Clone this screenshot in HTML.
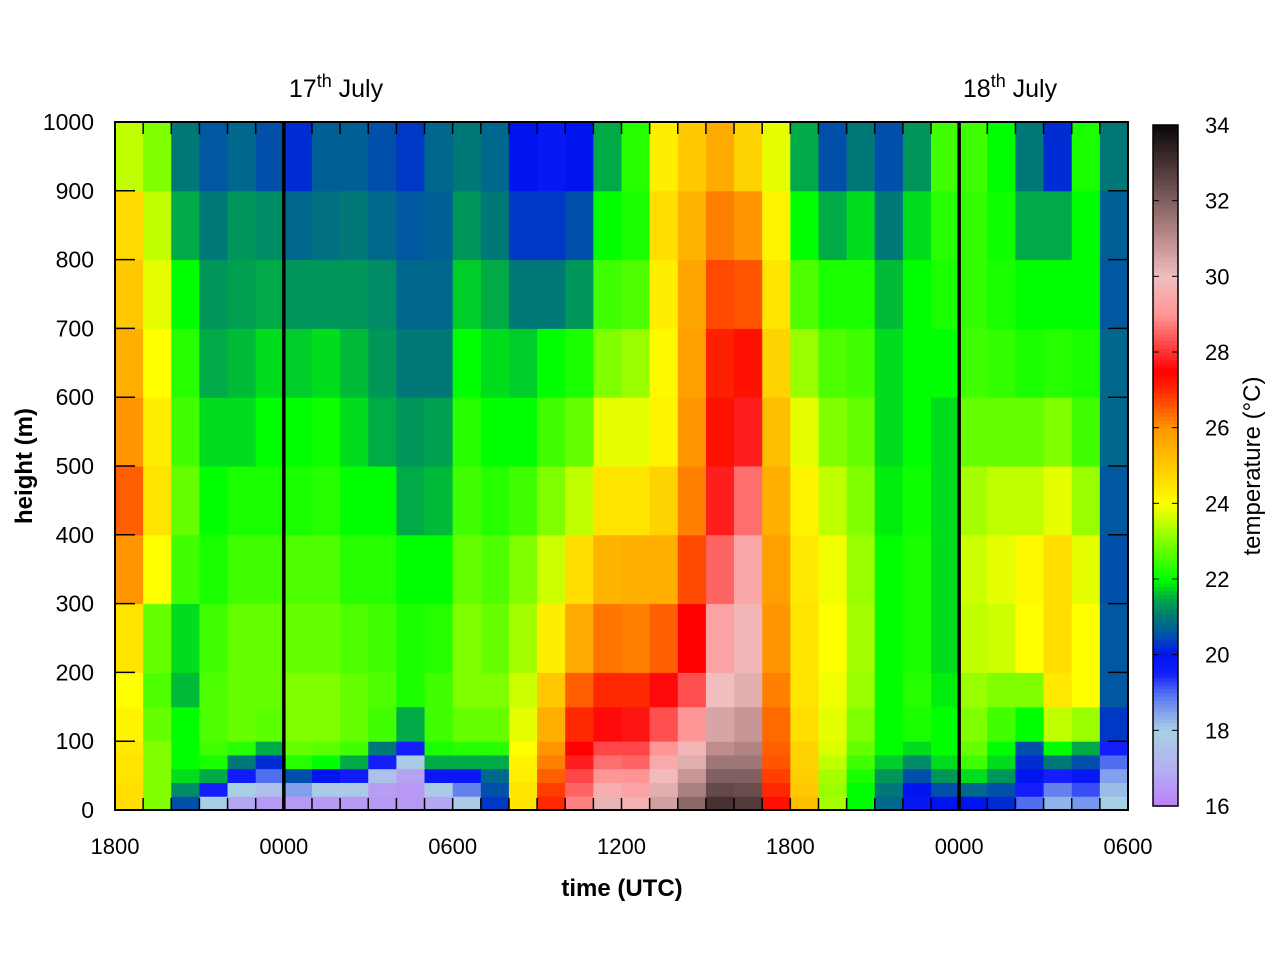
<!DOCTYPE html>
<html><head><meta charset="utf-8">
<style>
html,body{margin:0;padding:0;background:#fff;}
svg{display:block;font-family:"Liberation Sans",sans-serif;}
</style></head>
<body>
<svg id="chart" width="1280" height="960" viewBox="0 0 1280 960" xmlns="http://www.w3.org/2000/svg">
<g id="cells"></g>
<g id="axes"></g>
<g id="cbar"></g>
<text x="622" y="896" font-size="24" font-weight="bold" text-anchor="middle">time (UTC)</text>
<text transform="translate(32,466) rotate(-90)" font-size="24" font-weight="bold" text-anchor="middle">height (m)</text>
<text transform="translate(1260,466) rotate(-90)" font-size="24" text-anchor="middle">temperature (°C)</text>
<text x="336" y="97" font-size="25" text-anchor="middle">17<tspan font-size="18" dy="-10">th</tspan><tspan dy="10"> July</tspan></text>
<text x="1010" y="97" font-size="25" text-anchor="middle">18<tspan font-size="18" dy="-10">th</tspan><tspan dy="10"> July</tspan></text>
</svg>
<script>
// Data: hourly columns starting 1800 16 July; heights are layer boundaries (m)
const heightEdges = [0,20,40,60,80,100,150,200,300,400,500,600,700,800,900,1000];
const timeHours = Array.from({length:36},(_,i)=>i); // hours after 1800
const temps = [
[24.6,24.6,24.5,24.5,24.4,24.2,24,24.5,26,26.5,26,25.5,25,24.7,23.5],
[23,23,23,23,23,22.8,22.6,22.8,24,24.5,24.3,24,23.8,23.5,23],
[20.5,21.2,21.8,22,22,22,21.6,21.8,22.5,22.8,22.5,22.3,22,21.5,21],
[18,19.5,21.5,22.2,22.5,22.6,22.6,22.5,22.2,22,21.8,21.5,21.3,21,20.6],
[16.8,18,19.6,21,22.3,22.8,22.8,22.8,22.5,22.2,21.8,21.6,21.4,21.3,20.8],
[16.5,17.5,19,20.2,21.5,22.7,22.8,22.8,22.5,22.2,22,21.8,21.5,21.2,20.5],
[16.5,18.5,20.5,22.3,22.8,23,23,22.8,22.6,22.2,22,21.7,21.3,20.8,20.2],
[16.5,17.8,20,22,22.7,23,23,22.8,22.6,22.3,22.1,21.8,21.3,20.9,20.7],
[16.5,17.8,19.6,21.5,22.5,22.8,22.8,22.6,22.3,22,21.8,21.6,21.3,21,20.7],
[16.5,16.6,17.5,19.5,21,22.5,22.6,22.5,22.3,22,21.5,21.3,21.2,20.8,20.5],
[16.5,16.5,16.7,17.8,19.5,21.5,22.2,22.2,22,21.5,21.3,21,20.8,20.6,20.3],
[16.8,17.8,19.8,21.5,22.2,22.5,22.5,22.3,22,21.6,21.4,21,20.8,20.7,20.8],
[17.8,18.8,19.8,21.5,22.3,22.8,23,23,22.8,22.5,22.3,22,21.7,21.3,21],
[20.3,20.5,20.8,21.5,22.3,22.8,23,22.8,22.6,22.3,22,21.8,21.5,21,20.8],
[24.5,24.5,24.3,24.2,24,23.8,23.6,23.3,23,22.5,22,21.7,21,20.3,20],
[27,26.8,26.5,26.2,26,25.5,25,24.3,23.6,23,22.5,22,21,20.3,19.8],
[28.8,28.5,28.2,27.8,27.5,27,26.5,25.6,24.6,23.5,22.8,22.2,21.3,20.5,20],
[30.2,29.6,29,28.6,28.2,27.6,27,26.3,25.4,24.5,23.8,23,22.5,22,21.5],
[29.7,29.3,29,28.5,28.2,27.7,27,26.2,25.5,24.5,23.8,23.2,22.6,22.2,22.3],
[30.6,30.3,29.9,29.5,29,28.3,27.6,26.5,25.5,24.8,24.2,24.1,24.3,24.6,24.3],
[31.8,31.3,30.8,30.3,29.8,29,28.3,27.5,26.7,26.2,26,25.8,25.7,25.4,25],
[33,32.5,32,31.5,31,30.5,30,29.3,28.5,27.8,27.3,27.1,26.7,26.2,25.6],
[32.8,32.4,32,31.5,31.2,30.8,30.3,29.8,29.4,28.6,27.8,27.3,26.6,26,24.8],
[27.3,27,26.8,26.6,26.5,26.4,26.2,26,25.8,25.5,25.2,24.8,24.5,24.2,23.8],
[25.2,25,24.9,24.8,24.8,24.6,24.5,24.5,24.4,24.2,23.8,23.2,22.6,22,21.5],
[23.3,23.2,23.3,23.5,23.7,23.8,23.9,24,23.9,23.5,23,22.6,22.2,21.5,20.5],
[22,22,22.2,22.5,22.8,23,23.2,23.3,23.2,23,22.8,22.5,22.2,21.8,21],
[20.8,21,21.3,21.7,22,22,22,22,22,21.9,21.8,21.8,21.6,21,20.5],
[19.8,20,20.5,21.2,21.8,22.2,22.3,22.2,22.2,22.1,22,22,22,21.8,21.3],
[20,20.5,21.3,21.8,22,22,21.9,21.8,21.8,21.8,21.8,22,22.2,22.3,22.5],
[20,20.8,21.8,22.5,22.8,23,23.2,23.5,23.6,23.3,22.8,22.5,22.4,22.4,22.5],
[20.2,20.5,21.3,21.8,22,22.5,23,23.6,23.8,23.5,22.8,22.4,22.2,22.1,22],
[19,19.5,20,20.2,20.5,22,23,24,24.1,23.5,22.8,22.2,22,21.5,21],
[18.3,18.8,19.5,21,22,23.5,24.4,24.6,24.6,23.8,23,22.3,22,21.5,20.2],
[18.6,19.2,19.8,20.5,21.5,23.2,24,24,23.8,23.2,22.5,22.2,22,22,22.2],
[18,18.2,18.5,19,19.5,20.3,20.6,20.6,20.5,20.6,20.8,20.8,20.6,20.7,21]
];
const xTickLabels = ["1800","0000","0600","1200","1800","0000","0600"];
const yTickValues = [0,100,200,300,400,500,600,700,800,900,1000];
const cbarTickValues = [16,18,20,22,24,26,28,30,32,34];
const dayLineHours = [6,30];

const NS="http://www.w3.org/2000/svg";
const L=115,R=1128,T=122,B=810,HMAX=36;
const xs=h=>L+(R-L)*h/HMAX;
const ys=m=>B-(B-T)*m/1000;
const stops=[[16,190,128,250],[17,178,176,240],[18,168,208,228],[18.5,130,160,235],[19,80,110,240],[19.5,20,30,250],[20,0,20,240],[20.5,0,80,170],[21,0,120,120],[21.5,0,170,70],[22,0,255,0],[23,128,255,0],[24,255,255,0],[25,255,200,0],[26,255,150,0],[27,255,40,0],[27.5,255,0,0],[28,255,50,50],[29,255,150,150],[30,240,190,190],[31,190,140,140],[32,128,96,96],[33,70,50,50],[34,10,8,8]];
function color(v){
  v=Math.max(16,Math.min(34,v));
  for(let i=0;i<stops.length-1;i++){const a=stops[i],b=stops[i+1];
    if(v<=b[0]){const f=(v-a[0])/(b[0]-a[0]);
      return `rgb(${Math.round(a[1]+f*(b[1]-a[1]))},${Math.round(a[2]+f*(b[2]-a[2]))},${Math.round(a[3]+f*(b[3]-a[3]))})`;}}
  return "rgb(10,8,8)";
}
function mk(tag,attrs,parent){const e=document.createElementNS(NS,tag);for(const k in attrs)e.setAttribute(k,attrs[k]);parent.appendChild(e);return e;}
const cells=document.getElementById('cells');
temps.forEach((col,i)=>{
  col.forEach((v,j)=>{
    const x0=xs(timeHours[i]),x1=xs(timeHours[i]+1),y0=ys(heightEdges[j+1]),y1=ys(heightEdges[j]);
    const r=mk('rect',{x:x0,y:y0,width:x1-x0+0.5,height:y1-y0+0.5,fill:color(v)},cells);
    
    
  });
});
const ax=document.getElementById('axes');
dayLineHours.forEach(h=>{
  const l=mk('line',{x1:xs(h),x2:xs(h),y1:T,y2:B,stroke:'#000','stroke-width':3.5},ax);
  
  
});
for(let h=0;h<=HMAX;h++){
  mk('line',{x1:xs(h),x2:xs(h),y1:B,y2:B-12,stroke:'#000','stroke-width':1.5},ax);
  mk('line',{x1:xs(h),x2:xs(h),y1:T,y2:T+12,stroke:'#000','stroke-width':1.5},ax);
}
xTickLabels.forEach((lab,i)=>{
  const t=mk('text',{x:xs(i*6),y:854,'font-size':22,'text-anchor':'middle'},ax);t.textContent=lab;
  
  
});
yTickValues.forEach(v=>{
  mk('line',{x1:L,x2:L+20,y1:ys(v),y2:ys(v),stroke:'#000','stroke-width':1.5},ax);
  mk('line',{x1:R,x2:R-20,y1:ys(v),y2:ys(v),stroke:'#000','stroke-width':1.5},ax);
  const t=mk('text',{x:94,y:ys(v)+8,'font-size':23,'text-anchor':'end'},ax);t.textContent=v;
  
  
});
mk('rect',{x:L,y:T,width:R-L,height:B-T,fill:'none',stroke:'#000','stroke-width':2},ax);
// colorbar
const cb=document.getElementById('cbar');
const CL=1153,CR=1178,CT=125,CB=806;
const cy=v=>CB-(CB-CT)*(v-16)/18;
for(let k=0;k<180;k++){const v=16+k*0.1;
  mk('rect',{x:CL,y:cy(v+0.1),width:CR-CL,height:(CB-CT)/180+0.6,fill:color(v+0.05)},cb);}
mk('rect',{x:CL,y:CT,width:CR-CL,height:CB-CT,fill:'none',stroke:'#000','stroke-width':1.5},cb);
cbarTickValues.forEach(v=>{
  mk('line',{x1:CL,x2:CL+6,y1:cy(v),y2:cy(v),stroke:'#000','stroke-width':1},cb);
  mk('line',{x1:CR,x2:CR-6,y1:cy(v),y2:cy(v),stroke:'#000','stroke-width':1},cb);
  const t=mk('text',{x:1205,y:cy(v)+8,'font-size':22},cb);t.textContent=v;
  
  
});
</script>
</body></html>
